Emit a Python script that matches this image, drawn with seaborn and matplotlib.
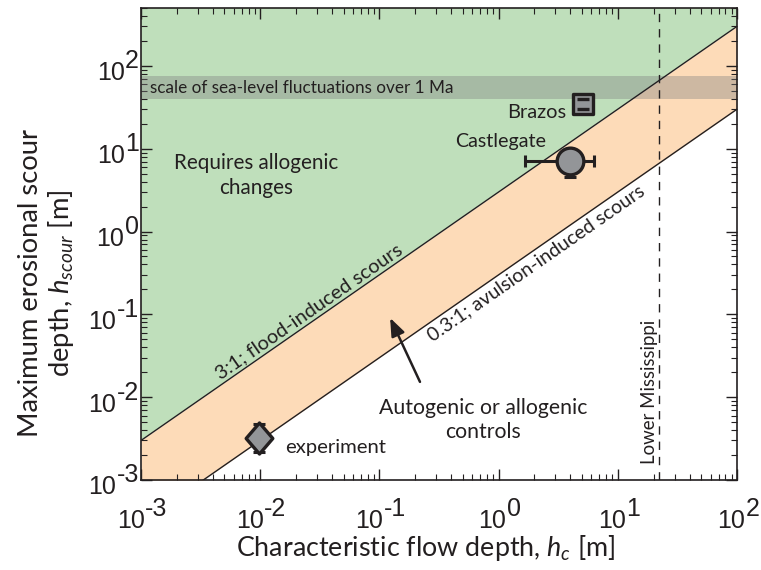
import numpy as np
import pandas as pd
import matplotlib
matplotlib.use("Agg")
import matplotlib.pyplot as plt
import seaborn as sns
from matplotlib.ticker import LogLocator, NullFormatter
from matplotlib.path import Path

# ---------------- data ----------------
hc_range = [1e-3, 1e2]          # characteristic flow depth range [m]
flood_ratio = 3.0                # 3:1 flood-induced scours
avulsion_ratio = 0.3             # 0.3:1 avulsion-induced scours
sea_level_band = [40, 75]        # scale of sea-level fluctuations over 1 Ma [m]
lower_mississippi_hc = 22        # Lower Mississippi flow depth [m]

site_names = ["experiment", "Castlegate", "Brazos"]
site_hc = [0.0097, 4.0, 5.1]
site_hscour = [0.0032, 7.2, 35.0]
site_hc_lo = [0.0097, 1.65, 5.1]
site_hc_hi = [0.0097, 6.3, 5.1]
site_hs_lo = [0.0022, 4.6, 30.3]
site_hs_hi = [0.0047, 9.0, 40.0]

x_ticks = [1e-3, 1e-2, 1e-1, 1e0, 1e1, 1e2]
y_ticks = [1e-3, 1e-2, 1e-1, 1e0, 1e1, 1e2]

# ---------------- style ----------------
sns.set_theme(style="ticks")
TXT = "Lato"
TICKF = "Liberation Sans"
plt.rcParams["font.family"] = [TXT, "DejaVu Sans"]
plt.rcParams["mathtext.fontset"] = "custom"
plt.rcParams["mathtext.rm"] = TXT
plt.rcParams["mathtext.it"] = TXT + ":italic"
plt.rcParams["axes.unicode_minus"] = False

INK = "#231f20"
GREEN = "#bfdfbb"
ORANGE = "#fddbb8"
MGRAY = "#939598"
PT = 0.72  # points per pixel at 100 dpi

fig = plt.figure(figsize=(7.61, 5.70), dpi=100)
ax = fig.add_axes([141 / 761, 1 - 480 / 570, 596 / 761, 472 / 570])
ax.set_xscale("log")
ax.set_yscale("log")
ax.set_xlim(1e-3, 1e2)
ax.set_ylim(1e-3, 500)

hc = np.array(hc_range)
lines_df = pd.DataFrame({
    "hc": np.concatenate([hc, hc]),
    "hs": np.concatenate([flood_ratio * hc, avulsion_ratio * hc]),
    "kind": ["flood"] * 2 + ["avulsion"] * 2,
})

# fills
ax.fill_between(hc, flood_ratio * hc, 1e5, color=GREEN, lw=0, zorder=0)
ax.fill_between(hc, avulsion_ratio * hc, flood_ratio * hc, color=ORANGE, lw=0, zorder=0)
ax.axhspan(sea_level_band[0], sea_level_band[1], color="#7f7f7f", alpha=0.38, lw=0, zorder=1)

sns.lineplot(data=lines_df, x="hc", y="hs", units="kind", estimator=None,
             color=INK, lw=1.0, ax=ax, zorder=2, legend=False)
ax.axvline(lower_mississippi_hc, color=INK, lw=1.0, ls=(0, (6, 5)), zorder=2)

# error bars (experiment, Castlegate)
for i in range(2):
    ax.errorbar(site_hc[i], site_hscour[i],
                xerr=[[site_hc[i] - site_hc_lo[i]], [site_hc_hi[i] - site_hc[i]]],
                yerr=[[site_hscour[i] - site_hs_lo[i]], [site_hs_hi[i] - site_hscour[i]]],
                fmt="none", ecolor=INK, elinewidth=2.2, capsize=4.5,
                capthick=2.2, zorder=3)

diamond = Path([(0, 1), (0.86, 0), (0, -1), (-0.86, 0), (0, 1)],
               [Path.MOVETO, Path.LINETO, Path.LINETO, Path.LINETO, Path.CLOSEPOLY])
markers = [diamond, "o", "s"]
sizes = [500, 370, 190]
for i in range(3):
    sns.scatterplot(x=[site_hc[i]], y=[site_hscour[i]], marker=markers[i], s=sizes[i],
                    color=MGRAY, edgecolor=INK, linewidth=2.4, ax=ax,
                    zorder=4 if i != 2 else 2.5, legend=False)
# Brazos error caps drawn inside the square
ax.errorbar(site_hc[2], site_hscour[2],
            yerr=[[site_hscour[2] - site_hs_lo[2]], [site_hs_hi[2] - site_hscour[2]]],
            fmt="none", ecolor=INK, elinewidth=0, capsize=4, capthick=2.4, zorder=5)

# ticks
for axis in (ax.xaxis, ax.yaxis):
    axis.set_minor_locator(LogLocator(base=10, subs=np.arange(2, 10), numticks=20))
    axis.set_minor_formatter(NullFormatter())
ax.set_xticks(x_ticks)
ax.set_yticks(y_ticks)
ax.set_xticklabels([])
ax.set_yticklabels([])
ax.tick_params(which="both", direction="in", top=True, right=True, color=INK)
ax.tick_params(which="major", length=8, width=1.0)
ax.tick_params(which="minor", length=4.5, width=0.8)
for s in ax.spines.values():
    s.set_color(INK)
    s.set_linewidth(1.2)
    s.set_zorder(6)
ax.set_xlabel("")
ax.set_ylabel("")

# tick labels: "10" with a full-size raised exponent
TFS = 18
fig.canvas.draw()
renderer = fig.canvas.get_renderer()


def text_w(s):
    t = fig.text(0, 0, s, fontsize=TFS, family=TICKF)
    w = t.get_window_extent(renderer).width
    t.remove()
    return w


w10 = text_w("10")
for t in x_ticks:
    e = f"{int(round(np.log10(t)))}"
    total = w10 + 1.5 + text_w(e)
    base = ax.annotate("10", xy=(t, 0), xycoords=ax.get_xaxis_transform(),
                       xytext=(-total / 2 * PT + 1.5 * PT, -41 * PT), textcoords="offset points",
                       ha="left", va="center", fontsize=TFS, family=TICKF, color=INK)
    ax.annotate(e, xy=(1, 0.5), xycoords=base, xytext=(0.5 * PT, 12 * PT),
                textcoords="offset points", ha="left", va="center",
                fontsize=TFS, family=TICKF, color=INK)
for t in y_ticks:
    e = f"{int(round(np.log10(t)))}"
    ex = ax.annotate(e, xy=(0, t), xycoords=ax.get_yaxis_transform(),
                     xytext=(-2 * PT, 4.5 * PT), textcoords="offset points",
                     ha="right", va="center", fontsize=TFS, family=TICKF, color=INK)
    ax.annotate("10", xy=(0, 0.5), xycoords=ex, xytext=(-0.5 * PT, -12 * PT),
                textcoords="offset points", ha="right", va="center",
                fontsize=TFS, family=TICKF, color=INK)

# axis labels
fig.text(426 / 761, 1 - 548 / 570, r"Characteristic flow depth, $h_{c}$ [m]",
         ha="center", va="center", fontsize=19.4, color=INK)
fig.text(47 / 761, 1 - 283 / 570, "Maximum erosional scour\n" + r"depth, $h_{scour}$ [m]",
         ha="center", va="center", rotation=90, fontsize=19.7, color=INK,
         multialignment="center", linespacing=1.12)

# annotations
ax.text(1.19e-3, 54, "scale of sea-level fluctuations over 1 Ma", ha="left", va="center",
        fontsize=12.3, color=INK, zorder=5)
ax.text(3.67, 27, "Brazos", ha="right", va="center", fontsize=14.4, color=INK, zorder=5)
ax.text(2.5, 12.1, "Castlegate", ha="right", va="center", fontsize=14.1, color=INK, zorder=5)
ax.text(0.0161, 2.5e-3, "experiment", ha="left", va="center", fontsize=14.6, color=INK, zorder=5)
ax.text(0.0092, 4.7, "Requires allogenic\nchanges", ha="center", va="center",
        fontsize=14.9, color=INK, linespacing=1.3, zorder=5)
ax.text(0.74, 5.3e-3, "Autogenic or allogenic\ncontrols", ha="center", va="center",
        fontsize=15.3, color=INK, linespacing=1.25, zorder=5)
ax.text(18.6, 0.0116, "Lower Mississippi", rotation=90, ha="center", va="center",
        fontsize=13.4, color=INK, zorder=5)

# rotated line labels
p1 = ax.transData.transform((1e-3, 1e-3))
p2 = ax.transData.transform((1e2, 1e2))
ang = np.degrees(np.arctan2(p2[1] - p1[1], p2[0] - p1[0]))
xa = 0.0285
ax.annotate("3:1; flood-induced scours", xy=(xa, flood_ratio * xa), xytext=(-4.0, 5.8),
            textcoords="offset points", rotation=ang, rotation_mode="anchor",
            ha="center", va="center", fontsize=14.4, color=INK, zorder=5)
xb = 1.81
ax.annotate("0.3:1; avulsion-induced scours", xy=(xb, avulsion_ratio * xb), xytext=(4.7, -6.8),
            textcoords="offset points", rotation=ang, rotation_mode="anchor",
            ha="center", va="center", fontsize=14.0, color=INK, zorder=5)

# arrow
ax.annotate("", xy=(0.123, 0.0906), xytext=(0.219, 0.0153),
            arrowprops=dict(arrowstyle="-|>,head_length=0.9,head_width=0.35", color=INK, lw=1.8,
                            shrinkA=0, shrinkB=0), zorder=5)

fig.savefig("out.png", dpi=100)
